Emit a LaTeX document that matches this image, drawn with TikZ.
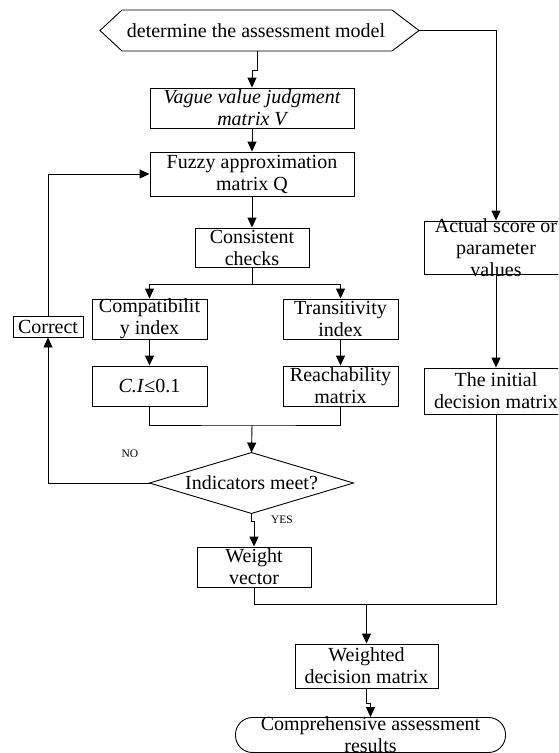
\documentclass[tikz,border=0pt]{standalone}
\usepackage{fontspec}
\setmainfont{Liberation Serif}
\usetikzlibrary{arrows.meta}
\begin{document}
\begin{tikzpicture}[x=1pt,y=-1pt,
  line width=0.9pt,
  arr/.style={-{Triangle[length=10pt,width=9pt]}},
  txt/.style={font={\fontsize{20}{22}\selectfont}, align=center, inner sep=0pt},
  itxt/.style={font={\fontsize{20}{22}\selectfont\itshape}, align=center, inner sep=0pt},
  small/.style={font={\fontsize{11.5}{13}\selectfont}, inner sep=0pt},
  boxshape/.style={draw, rectangle, inner sep=0pt},
]
\clip (0,0) rectangle (558,753);

% top hexagon
\draw (100,30.5) -- (122,10) -- (392,10) -- (419,30.5) -- (392,51) -- (122,51) -- cycle;
\node[txt] (hex) at (256,30.5) {determine the assessment model};
\coordinate (hexS) at (257,51);
\coordinate (hexE) at (419,30.5);

% boxes
\node[boxshape, minimum width=204, minimum height=40] (vague) at (252,108) {};
\node[itxt] at (vague) {Vague value judgment\\matrix V};

\node[boxshape, minimum width=204, minimum height=44] (fuzzy) at (252,174) {};
\node[txt] at (fuzzy) {Fuzzy approximation\\matrix Q};

\node[boxshape, minimum width=114, minimum height=39] (consist) at (252,247.5) {};
\node[txt] at (consist) {Consistent\\checks};

\node[boxshape, minimum width=115, minimum height=40] (compat) at (149.5,319) {};
\node[txt] at (compat) {Compatibilit\\y index};

\node[boxshape, minimum width=115, minimum height=40] (trans) at (340.5,319) {};
\node[txt] at (trans) {Transitivity\\index};

\node[boxshape, minimum width=115, minimum height=40] (ci) at (149.5,386) {};
\node[txt] at (ci) {\textit{C.I}≤0.1};

\node[boxshape, minimum width=115, minimum height=40] (reach) at (340.5,386) {};
\node[txt] at (reach) {Reachability\\matrix};

\node[boxshape, minimum width=70, minimum height=21] (correct) at (48,326.5) {};
\node[txt] at (correct) {Correct};

\node[rectangle, inner sep=0pt, minimum width=203, minimum height=60] (dia) at (251.5,483) {};
\draw (dia.west) -- (dia.north) -- (dia.east) -- (dia.south) -- cycle;
\node[txt] at (dia) {Indicators meet?};

\node[boxshape, minimum width=114, minimum height=40] (weight) at (254,567) {};
\node[txt] at (weight) {Weight\\vector};

\node[boxshape, minimum width=144, minimum height=53] (actual) at (496,247.5) {};
\node[txt] at (actual) {Actual score or\\parameter\\values};

\node[boxshape, minimum width=144, minimum height=46] (initial) at (496,391) {};
\node[txt] at (initial) {The initial\\decision matrix};

\node[boxshape, minimum width=143, minimum height=44] (weighted) at (366.5,666) {};
\node[txt] at (weighted) {Weighted\\decision matrix};

\node[draw, rectangle, rounded corners=17pt, inner sep=0pt, minimum width=270, minimum height=35] (term) at (370.5,735) {};
\node[txt] at (term) {Comprehensive assessment\\results};

% labels
\node[small] (nolab) at (130,454) {NO};
\node[small] (yeslab) at (282,520) {YES};

% connectors
\draw[arr] (hexS) -- ++(0,19) -| (vague.north);
\draw[arr] (hexE) -| (actual.north);
\draw[arr] (vague.south) -- (fuzzy.north);
\draw[arr] (fuzzy.south) -- (consist.north);
\coordinate (br) at (252,284);
\draw (consist.south) -- (br);
\draw[arr] (br) -| (compat.north);
\draw[arr] (br) -| (trans.north);
\draw[arr] (compat.south) -- (ci.north);
\draw[arr] (trans.south) -- (reach.north);
\coordinate (mg) at (252,425);
\draw (ci.south) |- (mg) -| (reach.south);
\draw[arr] (mg) -- (dia.north);
\draw[arr] (dia.west) -| (correct.south);
\draw[arr] (correct.north) |- (fuzzy.west);
\draw[arr] (dia.south) -- ++(0,8) -| (weight.north);
\draw[arr] (actual.south) -- (initial.north);
\coordinate (mg2) at (366.5,604);
\draw (weight.south) |- (initial.south |- mg2) -- (initial.south);
\draw[arr] (mg2) -- (weighted.north);
\draw[arr] (weighted.south) -- ++(0,15) -| (term.north);
\end{tikzpicture}
\end{document}
